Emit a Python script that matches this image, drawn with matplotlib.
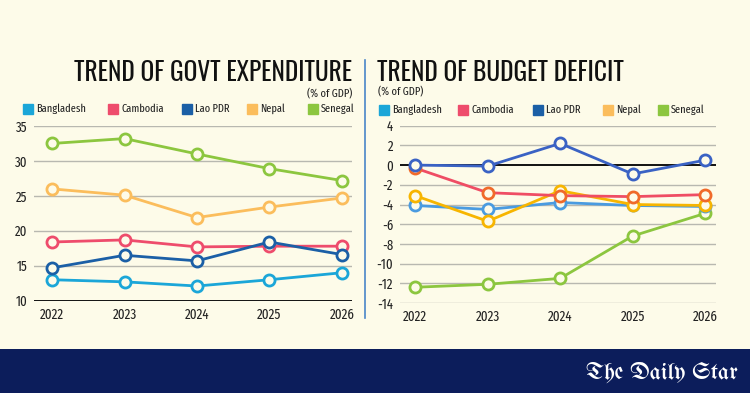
import matplotlib
matplotlib.use("Agg")
import matplotlib.pyplot as plt
from matplotlib import font_manager
from matplotlib.lines import Line2D
from matplotlib.patches import Rectangle

names = {f.name for f in font_manager.fontManager.ttflist}

def pick(cands, default='DejaVu Sans'):
    for c in cands:
        if c in names:
            return c
    return default

COND = pick(['Fira Sans Extra Condensed', 'Barlow Condensed', 'Oswald', 'Roboto Condensed'])
TITLE = pick(['Oswald', 'Saira ExtraCondensed', 'Barlow Condensed'], COND)
GOTH = pick(['UnifrakturMaguntia', 'UnifrakturCook', 'Pirata One'], 'DejaVu Serif')

years = [2022, 2023, 2024, 2025, 2026]
countries = ["Bangladesh", "Cambodia", "Lao PDR", "Nepal", "Senegal"]

# Govt expenditure (% of GDP)
exp_bangladesh = [13.0, 12.7, 12.1, 13.0, 14.0]
exp_cambodia = [18.4, 18.7, 17.7, 17.8, 17.8]
exp_lao = [14.7, 16.5, 15.7, 18.4, 16.6]
exp_nepal = [26.0, 25.1, 21.9, 23.4, 24.7]
exp_senegal = [32.5, 33.2, 31.0, 28.9, 27.2]

# Budget deficit (% of GDP)
def_bangladesh = [-4.1, -4.5, -3.8, -4.1, -4.2]
def_cambodia = [-0.3, -2.8, -3.1, -3.2, -3.0]
def_lao = [0.0, -0.1, 2.2, -0.9, 0.5]
def_nepal = [-3.1, -5.7, -2.6, -4.0, -4.1]
def_senegal = [-12.4, -12.1, -11.5, -7.2, -4.9]

left_ticks = [10, 15, 20, 25, 30, 35]
right_ticks = [4, 2, 0, -2, -4, -6, -8, -10, -12, -14]

legend_colors = ["#1ba6d8", "#ee4c6c", "#1b5fa6", "#fbbd5c", "#8cc63f"]
right_line_colors = ["#4a9be0", "#ef4d64", "#3a62c4", "#f7b500", "#8cc63f"]
right_marker_colors = ["#4a9be0", "#f06a2a", "#3a62c4", "#f7b500", "#8cc63f"]

BG = "#fdfbe9"
TXT = "#222222"
W, H = 750, 393

fig = plt.figure(figsize=(7.5, 3.93), dpi=100, facecolor=BG)
renderer = fig.canvas.get_renderer()

def fit(t, width_px):
    w = t.get_window_extent(renderer=renderer).width
    if w > 0:
        t.set_fontsize(t.get_fontsize() * width_px / w)
    return t

def rect(l, t, r, b):
    return [l / W, 1 - b / H, (r - l) / W, (b - t) / H]

axL = fig.add_axes(rect(34, 126, 352, 300.7))
axR = fig.add_axes(rect(400, 125.7, 716, 303))

probe = fig.text(0, 0, "2022", fontfamily=COND, fontsize=10)
fit(probe, 24)
XFS = probe.get_fontsize()
probe.set_text("35"); probe.set_fontsize(10)
fit(probe, 11.5)
YFS = probe.get_fontsize()
probe.remove()

for ax in (axL, axR):
    ax.set_facecolor(BG)
    for s in ax.spines.values():
        s.set_visible(False)
    ax.tick_params(length=0, colors=TXT)
    ax.set_xticks(years)
    ax.set_xticklabels([str(y) for y in years], fontfamily=COND, fontsize=XFS)
    ax.tick_params(axis='x', pad=5)
    ax.tick_params(axis='y', pad=5)

# Left chart
axL.set_xlim(2021.75, 2026.14)
axL.set_ylim(10, 35)
axL.set_yticks(left_ticks)
axL.set_yticklabels([str(t) for t in left_ticks], fontfamily=COND, fontsize=YFS)
for t in left_ticks[1:]:
    axL.axhline(t, color="#b8b8b0", lw=1, zorder=1)
axL.axhline(10, color="#111111", lw=1.4, zorder=2)

exp_series = [exp_bangladesh, exp_cambodia, exp_lao, exp_nepal, exp_senegal]
for vals, c in zip(exp_series, legend_colors):
    axL.plot(years, vals, color=c, lw=2, marker='o', ms=8, mfc=BG, mec=c, mew=2,
             zorder=3, clip_on=False)

# Right chart
axR.set_xlim(2021.79, 2026.15)
axR.set_ylim(-14, 4)
axR.set_yticks(right_ticks)
axR.set_yticklabels([str(t) for t in right_ticks], fontfamily=COND, fontsize=YFS)
for t in right_ticks:
    if t != 0:
        axR.axhline(t, color="#b8b8b0", lw=1, zorder=1)
axR.axhline(0, color="#111111", lw=1.4, zorder=2)

def_series = [def_bangladesh, def_cambodia, def_lao, def_nepal, def_senegal]
for i in [4, 0, 3, 1, 2]:
    axR.plot(years, def_series[i], color=right_line_colors[i], lw=2, marker='o', ms=8,
             mfc=BG, mec=right_marker_colors[i], mew=2, zorder=3, clip_on=False)

# Titles
t1 = fig.text(352 / W, 1 - 73 / H, "TREND OF GOVT EXPENDITURE", ha='right', va='center',
              fontfamily=TITLE, fontsize=20, color="#111111")
fit(t1, 277)
t2 = fig.text(377 / W, 1 - 73 / H, "TREND OF BUDGET DEFICIT", ha='left', va='center',
              fontfamily=TITLE, fontsize=20, color="#111111")
fit(t2, 246)
s1 = fig.text(352 / W, 1 - 94 / H, "(% of GDP)", ha='right', va='center',
              fontfamily=COND, fontsize=8, color=TXT)
fit(s1, 45)
s2 = fig.text(378 / W, 1 - 92 / H, "(% of GDP)", ha='left', va='center',
              fontfamily=COND, fontsize=8, color=TXT)
fit(s2, 45)

# Legends
left_mx = [28, 113, 187, 252, 313]
right_mx = [384, 463, 538, 608, 663]
lfs = None
for mx_list, ly in ((left_mx, 109), (right_mx, 110)):
    for mx, name, c in zip(mx_list, countries, legend_colors):
        fig.add_artist(Line2D([mx / W], [1 - ly / H], marker='s', ms=7, color=c,
                              mec=c, transform=fig.transFigure, ls='none'))
        t = fig.text((mx + 8) / W, 1 - ly / H, name, ha='left', va='center',
                     fontfamily=COND, fontsize=9, color=TXT)
        if lfs is None:
            fit(t, 49)
            lfs = t.get_fontsize()
        t.set_fontsize(lfs)

# Divider
fig.add_artist(Line2D([364.5 / W, 364.5 / W], [1 - 60 / H, 1 - 318 / H], color="#4a86c8",
                      lw=1.2, transform=fig.transFigure))

# Footer band
fig.add_artist(Rectangle((0, 0), 1, 44 / H, transform=fig.transFigure,
                         facecolor="#0c1d5b", edgecolor='none'))
ft = fig.text(738 / W, 1 - 372 / H, "The Daily Star", ha='right', va='center',
              fontfamily=GOTH, fontsize=15, color='white')
fit(ft, 152)

fig.savefig("out.png", dpi=100, facecolor=BG)
